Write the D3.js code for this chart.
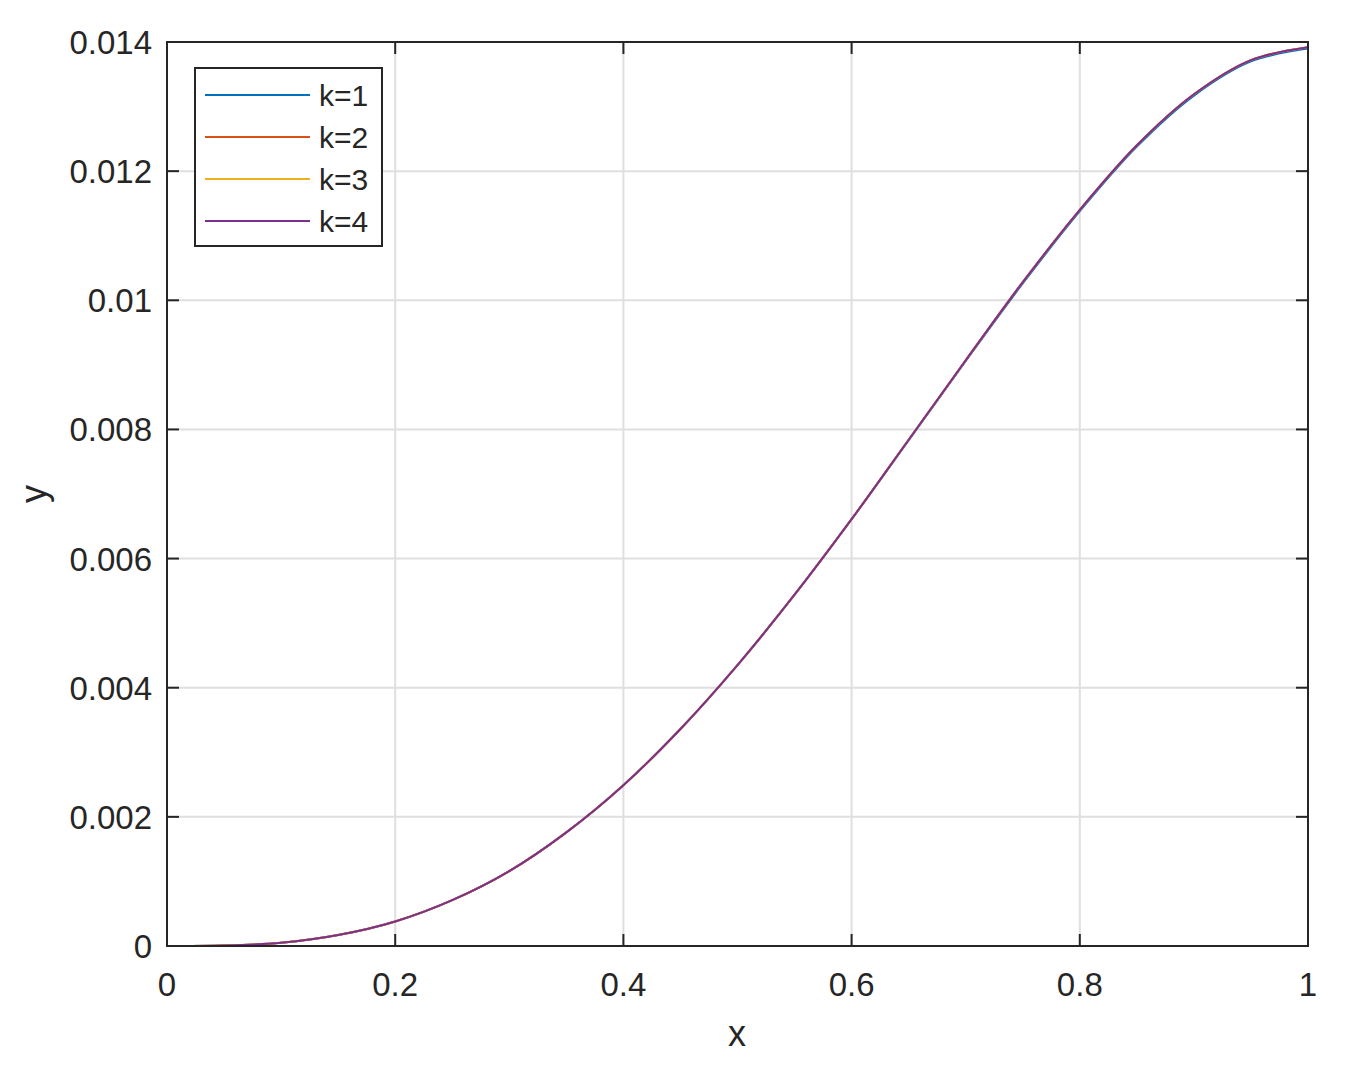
<!DOCTYPE html>
<html><head><meta charset="utf-8">
<script src="https://cdn.jsdelivr.net/npm/d3@7"></script>
<style>body{margin:0;background:#fff}svg{display:block}text{font-family:"Liberation Sans",Arial,sans-serif;fill:#262626}</style>
</head><body>
<script>
const xs = [0,0.05,0.1,0.15,0.2,0.25,0.3,0.35,0.4,0.45,0.5,0.55,0.6,0.65,0.7,0.75,0.8,0.85,0.9,0.95,1.0];
const k1 = [0,0.000007,0.00005,0.00017,0.00038,0.00071,0.00116,0.00176,0.00249,0.00336,0.00435,0.00544,0.00661,0.00783,0.00906,0.01026,0.01138,0.01238,0.01317,0.0137,0.0139];
const k2 = [0,0.000007,0.00005,0.00017,0.00038,0.00071,0.00116,0.00176,0.00249,0.00336,0.00435,0.00544,0.00661,0.00784,0.00907,0.01028,0.0114,0.0124,0.01319,0.01372,0.01392];
const k3 = [0,0.000007,0.00005,0.00017,0.00038,0.00071,0.00116,0.00176,0.00249,0.00336,0.00435,0.00544,0.00661,0.00784,0.00907,0.01028,0.0114,0.0124,0.01319,0.01372,0.01392];
const k4 = [0,0.000007,0.00005,0.00017,0.00038,0.00071,0.00116,0.00176,0.00249,0.00336,0.00435,0.00544,0.00661,0.00784,0.00907,0.01028,0.0114,0.0124,0.01319,0.01372,0.01392];
const seriesNames = ["k=1","k=2","k=3","k=4"];
const seriesColors = ["#0072BD","#D95319","#EDB120","#7E2F8E"];
const xTicks = [0,0.2,0.4,0.6,0.8,1];
const xTickLabels = ["0","0.2","0.4","0.6","0.8","1"];
const yTicks = [0,0.002,0.004,0.006,0.008,0.01,0.012,0.014];
const yTickLabels = ["0","0.002","0.004","0.006","0.008","0.01","0.012","0.014"];

const W=1352,H=1072, L=167,R=1308,T=42,B=946;
const svg=d3.select("body").append("svg").attr("width",W).attr("height",H);
const x=d3.scaleLinear().domain([0,1]).range([L,R]);
const y=d3.scaleLinear().domain([0,0.014]).range([B,T]);
const ink="#262626";
// grid
svg.append("g").selectAll("line").data(xTicks.slice(1,-1)).join("line")
 .attr("x1",d=>x(d)).attr("x2",d=>x(d)).attr("y1",T).attr("y2",B).attr("stroke","#dfdfdf").attr("stroke-width",2);
svg.append("g").selectAll("line").data(yTicks.slice(1,-1)).join("line")
 .attr("y1",d=>y(d)).attr("y2",d=>y(d)).attr("x1",L).attr("x2",R).attr("stroke","#dfdfdf").attr("stroke-width",2);
// series
const data=[k1,k2,k3,k4];
const line=d3.line().x((d,i)=>x(xs[i])).y(d=>y(d)).curve(d3.curveCatmullRom.alpha(0.5));
data.forEach((s,i)=>{
 svg.append("path").attr("d",line(s)).attr("fill","none").attr("stroke",seriesColors[i]).attr("stroke-width",2);
});
// axes with inside ticks
const tl=12;
const ax=svg.append("g").attr("stroke",ink).attr("stroke-width",2);
xTicks.forEach(t=>{
 ax.append("line").attr("x1",x(t)).attr("x2",x(t)).attr("y1",B).attr("y2",B-tl);
 ax.append("line").attr("x1",x(t)).attr("x2",x(t)).attr("y1",T).attr("y2",T+tl);
});
yTicks.forEach(t=>{
 ax.append("line").attr("x1",L).attr("x2",L+tl).attr("y1",y(t)).attr("y2",y(t));
 ax.append("line").attr("x1",R).attr("x2",R-tl).attr("y1",y(t)).attr("y2",y(t));
});
svg.append("rect").attr("x",L).attr("y",T).attr("width",R-L).attr("height",B-T).attr("fill","none").attr("stroke",ink).attr("stroke-width",2);
// tick labels
svg.append("g").selectAll("text").data(xTicks).join("text")
 .attr("x",d=>x(d)).attr("y",996).attr("text-anchor","middle").attr("font-size",33).text((d,i)=>xTickLabels[i]);
svg.append("g").selectAll("text").data(yTicks).join("text")
 .attr("x",152).attr("y",d=>y(d)+12).attr("text-anchor","end").attr("font-size",33).text((d,i)=>yTickLabels[i]);
svg.append("text").attr("x",737).attr("y",1046).attr("text-anchor","middle").attr("font-size",36).text("x");
svg.append("text").attr("transform","translate(46,494) rotate(-90)").attr("text-anchor","middle").attr("font-size",36).text("y");
// legend
const lg=svg.append("g");
lg.append("rect").attr("x",195).attr("y",68).attr("width",187).attr("height",178).attr("fill","#fff").attr("stroke",ink).attr("stroke-width",2);
seriesNames.forEach((n,i)=>{
 const yy=95+i*42;
 lg.append("line").attr("x1",205).attr("x2",310).attr("y1",yy).attr("y2",yy).attr("stroke",seriesColors[i]).attr("stroke-width",2);
 lg.append("text").attr("x",319).attr("y",yy+11).attr("font-size",30).text(n);
});
</script>
</body></html>
